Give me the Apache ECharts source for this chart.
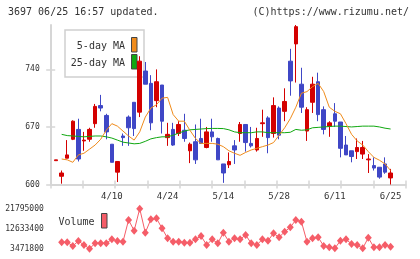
<!DOCTYPE html>
<html><head><meta charset="utf-8">
<script src="https://cdn.jsdelivr.net/npm/echarts@6/dist/echarts.min.js"></script>
<style>html,body{margin:0;padding:0;background:#fff}#c{width:420px;height:259px}</style>
</head><body><div id="c"></div>
<script>
const categories = ['3/27','3/28','3/31','4/1','4/2','4/3','4/4','4/7','4/8','4/9',
 '4/10','4/11','4/14','4/15','4/16','4/17','4/18','4/21','4/22','4/23',
 '4/24','4/25','4/28','5/1','5/2','5/7','5/8','5/9','5/12','5/13',
 '5/14','5/15','5/16','5/19','5/20','5/21','5/22','5/23','5/26','5/27',
 '5/28','5/29','5/30','6/2','6/3','6/4','6/5','6/6','6/9','6/10',
 '6/11','6/12','6/13','6/16','6/17','6/18','6/19','6/20','6/23','6/24','6/25'];
const tickLabels = ['4/10','4/24','5/14','5/28','6/11','6/25'];
const opens  = [629,610,632,655,667,653,655,674,696,684,649,615,659,682,700,688,738,723,702,721,657,667,662,666,641,652,656,645,664,656,625,624,647,662,673,650,642,674,681,662,693,689,750,771,722,665,700,725,691,671,686,676,648,641,640,637,630,623,621,625,608];
const closes = [630,614,636,677,631,654,667,695,693,664,627,628,657,669,668,750,722,675,725,677,661,648,673,656,649,630,650,664,658,630,614,628,642,673,651,647,656,675,657,696,660,701,726,792,694,691,722,685,667,675,677,644,636,634,645,645,631,620,609,615,614];
const lows   = [629,601,632,654,628,641,652,669,689,655,627,603,647,647,659,682,722,666,694,662,647,647,659,652,626,625,650,644,652,630,602,620,625,652,640,645,640,658,638,657,655,677,708,724,687,653,687,677,661,658,670,633,636,627,631,631,614,617,607,613,600];
const highs  = [630,617,654,678,680,664,669,698,709,686,649,628,662,684,700,756,749,733,740,721,675,675,677,686,651,673,680,670,680,657,625,639,654,676,673,670,669,691,683,706,695,717,765,794,742,694,731,736,695,677,699,676,659,641,656,653,637,633,621,633,619];
const ma5  = [null,631,630,627,636,638,643,648,655,666,674,671,665,659,654,664,682,693,697,705,706,685,677,677,666,656,650,650,650,649,646,641,638,635.5,639,642,644,646,648,651,660,669,680,694,711,713,719,723,713,694,689,686,674,661,653,648,640,633,629.5,625,617];
const ma25 = [null,661,659.5,659,658.5,658,658.5,659,659,658,656.5,654,651.5,650.5,649.5,650,652.5,655.5,657,658,658,660,662.5,665,666.5,667,667.5,668,668.2,668.2,668,666.5,664,663,663,663,664,664,663,663,663,663,663.5,667,666,666.5,669,669.5,670,670.5,671,671,670.5,670,670.5,671,671,671,670,668.5,667.5];
const volume = [null,6403500,6403500,4708600,6999000,5166700,3471800,5945400,5945400,5945400,7777800,6999000,6678400,16618700,11717200,21795000,10801100,16939400,17397400,12816600,8235800,6678400,6678400,6220300,6220300,7777800,9289400,5166700,7777800,5945400,10801100,6678400,8235800,7777800,9747500,5945400,5166700,7777800,7136400,10526200,8693900,11259200,13274700,16618700,15840000,6678400,8235800,8693900,4708600,4113100,3655000,7136400,7777800,5624800,5166700,3655000,8510700,4113100,4113100,5166700,4388000];
const priceTicks = [600, 670, 740];
const volTicks = [3471800, 12633400, 21795000];

(function () {
const FONT = '"DejaVu Sans Mono", monospace';
const AXC = '#d6d6d6';
const UP = '#d40000', DOWN = '#3f47c6';
const VOLC = '#f55d68';
const candleData = categories.map((_, i) => [opens[i], closes[i], lows[i], highs[i]]);

const chart = echarts.init(document.getElementById('c'), null, {renderer: 'canvas'});
const cl = 53.3, cw = 340.1, gTop = 25, ph = 159.5;
const py = p => gTop + ph - (p - 600) * ph / 194;
chart.setOption({
  animation: false,
  backgroundColor: '#fff',
  grid: [
    {left: cl, top: gTop, width: cw, height: ph},
    {left: 50.7, top: gTop, width: 355, height: ph},
    {left: 50.7, top: gTop, width: 355, height: ph},
    {left: 50.7, top: py(740), width: 355, height: py(600) - py(740)},
    {left: cl, top: 208.7, width: cw, height: 40}
  ],
  xAxis: [
    {type: 'category', gridIndex: 0, data: categories, boundaryGap: true,
     axisLine: {show: false}, axisTick: {show: false}, splitLine: {show: false},
     axisLabel: {interval: (i, v) => tickLabels.includes(v), fontFamily: FONT, fontSize: 9, color: '#333', margin: 8}},
    {type: 'value', gridIndex: 1, min: 0, max: 11, interval: 1,
     axisLine: {show: true, lineStyle: {color: AXC, width: 2}}, axisTick: {show: false},
     axisLabel: {show: false}, splitLine: {show: false}},
    {type: 'value', gridIndex: 2, min: 0, max: 11, interval: 1, offset: -4,
     axisLine: {show: false}, axisTick: {show: true, length: 8, lineStyle: {color: AXC, width: 1.5}},
     axisLabel: {show: false}, splitLine: {show: false}},
    {type: 'value', gridIndex: 3, show: false, min: 0, max: 1},
    {type: 'category', gridIndex: 4, data: categories, boundaryGap: true, show: false}
  ],
  yAxis: [
    {type: 'value', gridIndex: 0, min: 600, max: 794, show: false},
    {type: 'value', gridIndex: 1, min: 0, max: 1,
     axisLine: {show: true, lineStyle: {color: AXC, width: 2}}, axisTick: {show: false},
     axisLabel: {show: false}, splitLine: {show: false}},
    {type: 'value', gridIndex: 2, show: false, min: 0, max: 1},
    {type: 'value', gridIndex: 3, min: priceTicks[0], max: priceTicks[2], interval: priceTicks[1] - priceTicks[0], offset: -4.5,
     axisLine: {show: false}, axisTick: {show: true, length: 9, lineStyle: {color: AXC, width: 1.5}},
     axisLabel: {fontFamily: FONT, fontSize: 8, color: '#333', margin: 15.5}, splitLine: {show: false}},
    {type: 'value', gridIndex: 4, min: volTicks[0], max: volTicks[2], interval: volTicks[1] - volTicks[0],
     axisLine: {show: false}, axisTick: {show: false}, splitLine: {show: false},
     axisLabel: {fontFamily: FONT, fontSize: 8, color: '#333', margin: 9.5, formatter: v => String(Math.round(v))}}
  ],
  series: [
    {type: 'candlestick', xAxisIndex: 0, yAxisIndex: 0, data: candleData, barWidth: 4, z: 3,
     itemStyle: {color: UP, color0: DOWN, borderColor: UP, borderColor0: DOWN, borderWidth: 1}},
    {type: 'line', xAxisIndex: 0, yAxisIndex: 0, data: ma25, showSymbol: false, z: 4,
     lineStyle: {color: '#10a810', width: 1}},
    {type: 'line', xAxisIndex: 0, yAxisIndex: 0, data: ma5, showSymbol: false, z: 4,
     lineStyle: {color: '#f08c1c', width: 1}},
    {type: 'line', xAxisIndex: 4, yAxisIndex: 4, data: volume, symbol: 'diamond', symbolSize: [7, 8],
     showSymbol: true, showAllSymbol: true,
     lineStyle: {color: VOLC, width: 1}, itemStyle: {color: VOLC}}
  ],
  graphic: [
    {type: 'text', left: 8, top: 7, style: {text: '3697 06/25 16:57 updated.', font: '10px ' + FONT, fill: '#333'}},
    {type: 'text', right: 11, top: 7, style: {text: '(C)https://www.rizumu.net/', font: '10px ' + FONT, fill: '#333'}},
    {type: 'rect', z: 0, shape: {x: 65, y: 30, width: 79, height: 47}, style: {fill: '#fff', stroke: '#d0d0d0', lineWidth: 1.5}},
    {type: 'text', z: 1, x: 125, y: 46.5, style: {text: '5-day MA', font: '10px ' + FONT, fill: '#333', textAlign: 'right', textVerticalAlign: 'middle'}},
    {type: 'text', z: 1, x: 125, y: 63.5, style: {text: '25-day MA', font: '10px ' + FONT, fill: '#333', textAlign: 'right', textVerticalAlign: 'middle'}},
    {type: 'rect', z: 1, shape: {x: 131.5, y: 37.5, width: 5.5, height: 14.5}, style: {fill: '#f08c1c', stroke: '#444', lineWidth: 1}},
    {type: 'rect', z: 1, shape: {x: 131.5, y: 54.5, width: 5.5, height: 14.5}, style: {fill: '#10a810', stroke: '#444', lineWidth: 1}},
    {type: 'text', z: 1, x: 58.5, y: 222.5, style: {text: 'Volume', font: '10px ' + FONT, fill: '#333', textVerticalAlign: 'middle'}},
    {type: 'rect', z: 1, shape: {x: 101.5, y: 213.5, width: 5.5, height: 14.5}, style: {fill: VOLC, stroke: '#444', lineWidth: 1}}
  ]
});
})();
</script></body></html>
